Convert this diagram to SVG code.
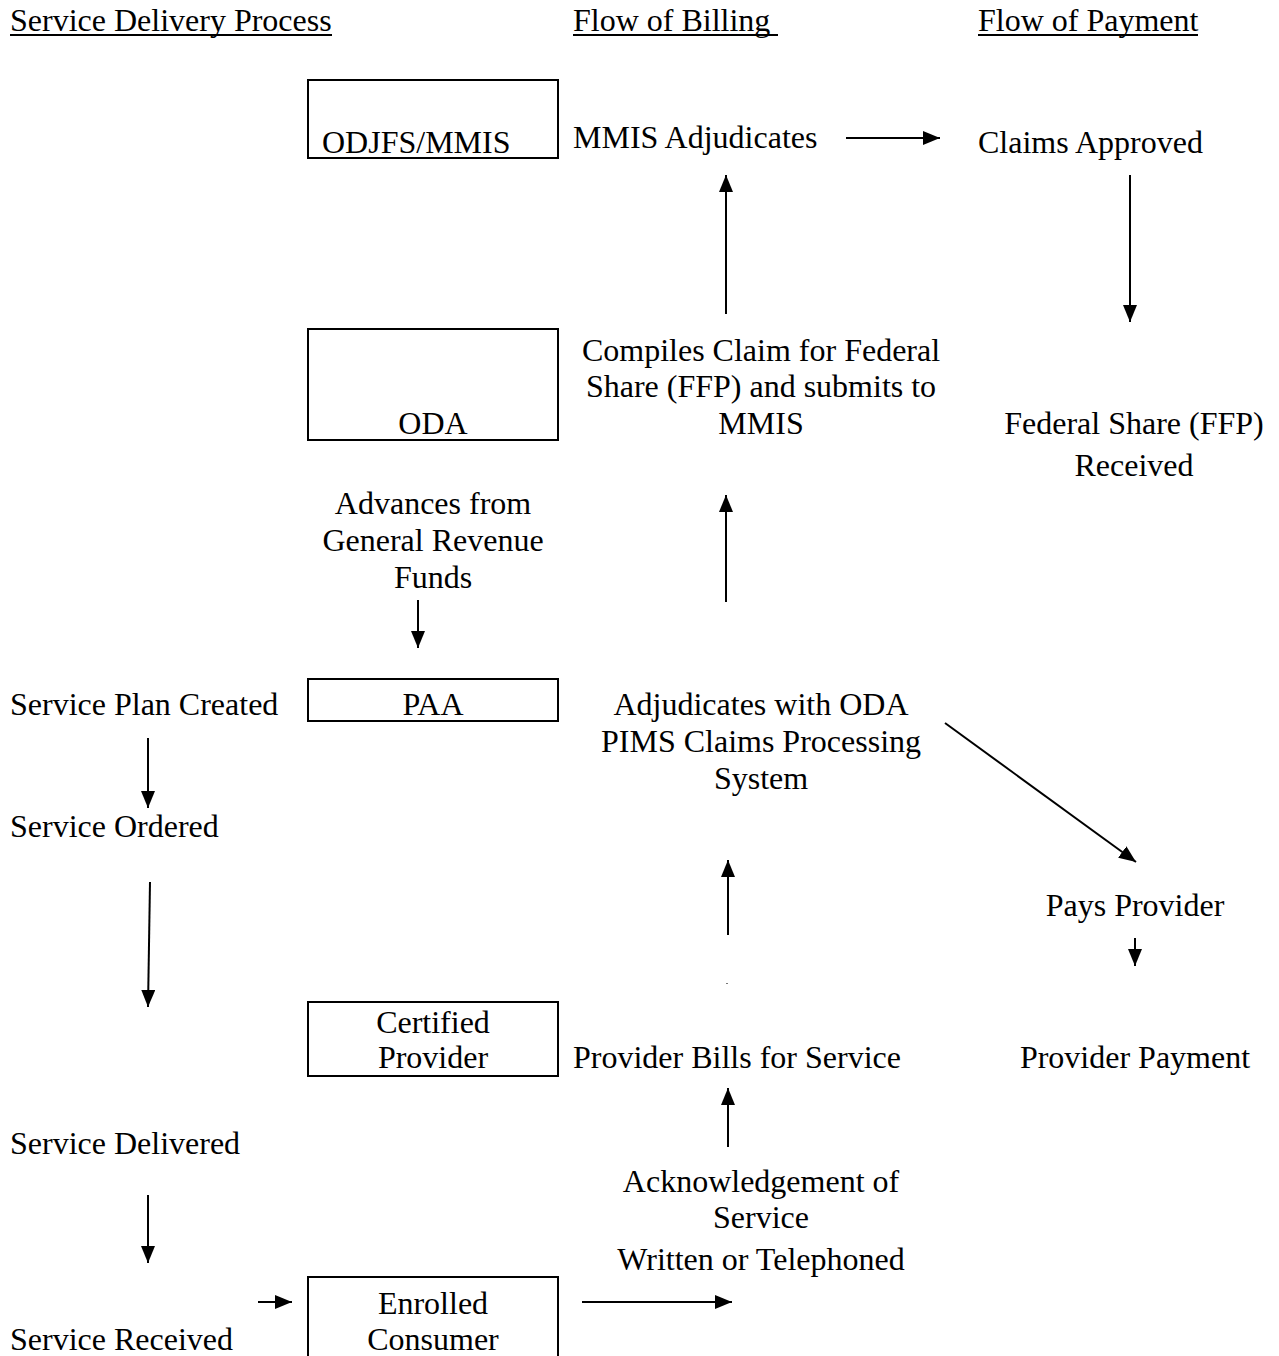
<svg xmlns="http://www.w3.org/2000/svg" width="1279" height="1356" viewBox="0 0 1279 1356">
<style>
text{font-family:"Liberation Serif","Times New Roman",serif;font-size:32px;fill:#000}
.c{text-anchor:middle}
.box{fill:none;stroke:#000;stroke-width:2}
.ln{stroke:#000;stroke-width:2;fill:none}
.ar{stroke:#000;stroke-width:2;fill:none;marker-end:url(#ah)}
</style>
<defs>
<marker id="ah" markerUnits="userSpaceOnUse" markerWidth="18" markerHeight="14" refX="17" refY="7" orient="auto" viewBox="0 0 18 14">
<path d="M0,0 L17,7 L0,14 z" fill="#000"/>
</marker>
</defs>
<rect width="1279" height="1356" fill="#fff"/>

<g id="headers">
<text x="10" y="31">Service Delivery Process</text>
<line class="ln" x1="10" y1="35" x2="332" y2="35"/>
<text x="573" y="31">Flow of Billing </text>
<line class="ln" x1="573" y1="35" x2="778" y2="35"/>
<text x="978" y="31">Flow of Payment</text>
<line class="ln" x1="978" y1="35" x2="1198" y2="35"/>
</g>

<g id="odjfs">
<rect class="box" x="308" y="80" width="250" height="78"/>
<text x="322" y="153">ODJFS/MMIS</text>
</g>
<g id="mmis-adj"><text x="573" y="148">MMIS Adjudicates</text></g>
<g id="claims-approved"><text x="978" y="153">Claims Approved</text></g>

<g id="oda">
<rect class="box" x="308" y="329" width="250" height="111"/>
<text class="c" x="433" y="434">ODA</text>
</g>
<g id="compiles">
<text class="c" x="761" y="361">Compiles Claim for Federal</text>
<text class="c" x="761" y="397">Share (FFP) and submits to</text>
<text class="c" x="761" y="434">MMIS</text>
</g>
<g id="federal-share">
<text class="c" x="1134" y="434">Federal Share (FFP)</text>
<text class="c" x="1134" y="476">Received</text>
</g>
<g id="advances">
<text class="c" x="433" y="514">Advances from</text>
<text class="c" x="433" y="551">General Revenue</text>
<text class="c" x="433" y="588">Funds</text>
</g>

<g id="plan-created"><text x="10" y="715">Service Plan Created</text></g>
<g id="paa">
<rect class="box" x="308" y="679" width="250" height="42"/>
<text class="c" x="433" y="715">PAA</text>
</g>
<g id="adj-oda">
<text class="c" x="761" y="715">Adjudicates with ODA</text>
<text class="c" x="761" y="752">PIMS Claims Processing</text>
<text class="c" x="761" y="789">System</text>
</g>
<g id="ordered"><text x="10" y="837">Service Ordered</text></g>
<g id="pays-provider"><text class="c" x="1135" y="916">Pays Provider</text></g>

<g id="certified">
<rect class="box" x="308" y="1002" width="250" height="74"/>
<text class="c" x="433" y="1033">Certified</text>
<text class="c" x="433" y="1068">Provider</text>
</g>
<g id="bills"><text x="573" y="1068">Provider Bills for Service</text></g>
<g id="provider-payment"><text class="c" x="1135" y="1068">Provider Payment</text></g>

<g id="delivered"><text x="10" y="1154">Service Delivered</text></g>
<g id="ack">
<text class="c" x="761" y="1192">Acknowledgement of</text>
<text class="c" x="761" y="1228">Service</text>
<text class="c" x="761" y="1270">Written or Telephoned</text>
</g>

<g id="enrolled">
<rect class="box" x="308" y="1277" width="250" height="90"/>
<text class="c" x="433" y="1314">Enrolled</text>
<text class="c" x="433" y="1350">Consumer</text>
</g>
<g id="received"><text x="10" y="1350">Service Received</text></g>

<g id="connectors">
<line class="ar" x1="846" y1="138" x2="940" y2="138"/>
<line class="ar" x1="1130" y1="175" x2="1130" y2="322"/>
<line class="ar" x1="726" y1="314" x2="726" y2="175"/>
<line class="ar" x1="418" y1="600" x2="418" y2="648"/>
<line class="ar" x1="726" y1="602" x2="726" y2="495"/>
<line class="ar" x1="945" y1="723" x2="1136" y2="862"/>
<line class="ar" x1="148" y1="738" x2="148" y2="808"/>
<line class="ar" x1="150" y1="882" x2="148" y2="1007"/>
<line class="ar" x1="728" y1="935" x2="728" y2="860"/>
<rect x="726" y="983" width="2" height="1" fill="#777"/>
<line class="ar" x1="1135" y1="938" x2="1135" y2="966"/>
<line class="ar" x1="728" y1="1147" x2="728" y2="1088"/>
<line class="ar" x1="148" y1="1195" x2="148" y2="1263"/>
<line class="ar" x1="258" y1="1302" x2="292" y2="1302"/>
<line class="ar" x1="582" y1="1302" x2="732" y2="1302"/>
</g>
</svg>
